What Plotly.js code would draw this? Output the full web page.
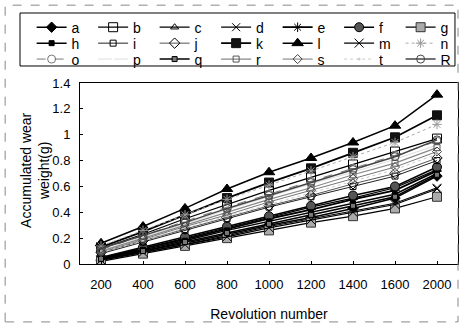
<!DOCTYPE html>
<html><head><meta charset="utf-8">
<script src="https://cdn.plot.ly/plotly-3.0.1.min.js"></script>
<style>html,body{margin:0;padding:0;background:#fff}#chart{width:462px;height:328px}</style>
</head><body><div id="chart"></div>
<script>
const revolutions = ['200','400','600','800','1000','1200','1400','1600','2000'];
const yTicks = [0,0.2,0.4,0.6,0.8,1,1.2,1.4];
const names = ['a','b','c','d','e','f','g','h','i','j','k','l','m','n','o','p','q','r','s','t','R'];
const a = [0.03,0.10,0.16,0.23,0.30,0.36,0.43,0.51,0.68];
const b = [0.12,0.23,0.35,0.46,0.57,0.67,0.77,0.87,0.97];
const c = [0.05,0.12,0.20,0.28,0.36,0.44,0.51,0.59,0.73];
const d = [0.03,0.09,0.15,0.22,0.29,0.35,0.41,0.47,0.59];
const e = [0.04,0.12,0.19,0.27,0.35,0.42,0.50,0.57,0.72];
const f = [0.05,0.13,0.21,0.29,0.37,0.45,0.53,0.60,0.75];
const g = [0.02,0.08,0.14,0.20,0.26,0.32,0.37,0.43,0.52];
const h = [0.04,0.11,0.18,0.26,0.33,0.40,0.47,0.54,0.70];
const i = [0.08,0.17,0.26,0.35,0.44,0.52,0.60,0.68,0.80];
const j = [0.09,0.18,0.27,0.36,0.45,0.53,0.62,0.70,0.82];
const k = [0.13,0.25,0.38,0.51,0.63,0.74,0.86,0.98,1.15];
const l = [0.16,0.29,0.43,0.58,0.71,0.82,0.94,1.07,1.31];
const m = [0.03,0.09,0.15,0.21,0.28,0.34,0.40,0.46,0.58];
const n = [0.14,0.26,0.38,0.50,0.61,0.72,0.83,0.94,1.08];
const o = [0.11,0.22,0.33,0.44,0.54,0.64,0.74,0.84,0.95];
const p = [0.10,0.21,0.31,0.42,0.52,0.62,0.71,0.81,0.92];
const q = [0.04,0.10,0.17,0.24,0.31,0.38,0.45,0.52,0.69];
const r = [0.10,0.20,0.30,0.40,0.50,0.59,0.69,0.78,0.90];
const s = [0.09,0.19,0.29,0.38,0.48,0.57,0.66,0.75,0.87];
const t = [0.09,0.18,0.28,0.37,0.46,0.55,0.64,0.73,0.85];
const R = [0.12,0.22,0.32,0.43,0.53,0.63,0.73,0.83,0.96];
const seriesValues = [a,b,c,d,e,f,g,h,i,j,k,l,m,n,o,p,q,r,s,t,R];

const styles = {
  a:{lc:'#000',lw:1.5,sym:'diamond',ms:8,mc:'#000'},
  b:{lc:'#000',lw:1.2,sym:'square-open',ms:9,mc:'#000'},
  c:{lc:'#000',lw:1.2,sym:'triangle-up-open',ms:7,mc:'#000'},
  d:{lc:'#000',lw:1.2,sym:'x-thin-open',ms:8,mc:'#000'},
  e:{lc:'#000',lw:1.8,sym:'asterisk-open',ms:8,mc:'#000'},
  f:{lc:'#000',lw:1.5,sym:'circle',ms:9,mc:'#555',mlc:'#000'},
  g:{lc:'#000',lw:1.2,sym:'square',ms:9,mc:'#aaa',mlc:'#333'},
  h:{lc:'#000',lw:1.5,sym:'square',ms:5,mc:'#000'},
  i:{lc:'#222',lw:1,sym:'square-open',ms:6,mc:'#000'},
  j:{lc:'#555',lw:1,sym:'diamond-open',ms:8,mc:'#000'},
  k:{lc:'#000',lw:1.8,sym:'square',ms:9,mc:'#111'},
  l:{lc:'#000',lw:1.5,sym:'triangle-up',ms:10,mc:'#000'},
  m:{lc:'#000',lw:1.2,sym:'x-thin-open',ms:9,mc:'#000'},
  n:{lc:'#aaa',lw:1,dash:'dot',sym:'asterisk-open',ms:8,mc:'#999'},
  o:{lc:'#777',lw:1,dash:'dash',sym:'circle-open',ms:8,mc:'#777'},
  p:{lc:'#ddd',lw:1,sym:'circle',ms:1,mc:'#fff'},
  q:{lc:'#000',lw:1.5,sym:'square',ms:5,mc:'#777',mlc:'#000'},
  r:{lc:'#888',lw:1.2,sym:'square-open',ms:6,mc:'#555'},
  s:{lc:'#777',lw:1,sym:'diamond-open',ms:7,mc:'#444'},
  t:{lc:'#ccc',lw:1,dash:'dot',sym:'circle',ms:1,mc:'#ccc'},
  R:{lc:'#444',lw:1.5,sym:'circle-open',ms:8,mc:'#444'}
};

const legendIds = ['legend', 'legend2', 'legend3'];
const traces = names.map((nm, idx) => {
  const st = styles[nm];
  return {
    x: revolutions, y: seriesValues[idx], name: nm, type: 'scatter', mode: 'lines+markers',
    legend: legendIds[Math.floor(idx / 7)],
    line: {color: st.lc, width: st.lw, dash: st.dash || 'solid'},
    marker: {symbol: st.sym, size: st.ms, color: st.mc, line: {color: st.mlc || st.mc, width: 1}}
  };
});

const font = {family: 'Liberation Sans, Arial, sans-serif', color: '#000'};
function legendRow(yPaper) {
  return {
    orientation: 'h', x: -0.128, y: yPaper, xanchor: 'left', yanchor: 'middle',
    bgcolor: 'rgba(0,0,0,0)', borderwidth: 0,
    font: Object.assign({size: 14}, font),
    entrywidth: 16.5, entrywidthmode: 'pixels', tracegroupgap: 0, itemwidth: 30
  };
}
const layout = {
  width: 462, height: 328,
  margin: {l: 80, r: 4, t: 83, b: 64, autoexpand: false},
  paper_bgcolor: '#fff', plot_bgcolor: '#fff',
  font: Object.assign({size: 13}, font),
  showlegend: true,
  legend: legendRow(1.306),
  legend2: legendRow(1.218),
  legend3: legendRow(1.130),
  xaxis: {
    type: 'category', range: [-0.5, 8.5], showgrid: false, zeroline: false,
    showline: true, linecolor: '#000', linewidth: 1, mirror: true,
    ticks: 'inside', ticklen: 3, tickcolor: '#000', ticklabelstandoff: 8,
    tickfont: Object.assign({size: 13}, font),
    title: {text: 'Revolution number', font: Object.assign({size: 14}, font), standoff: 18}
  },
  yaxis: {
    range: [0, 1.4], tickvals: yTicks, showgrid: false, zeroline: false,
    showline: true, linecolor: '#000', linewidth: 1, mirror: true,
    ticks: 'inside', ticklen: 3, tickcolor: '#000', ticklabelstandoff: 6,
    tickfont: Object.assign({size: 13}, font)
  },
  annotations: [{
    text: 'Accumulated wear<br>weight(g)', xref: 'paper', yref: 'paper',
    x: -0.119, y: 0.52, xanchor: 'center', yanchor: 'middle', textangle: -90,
    showarrow: false, font: Object.assign({size: 14}, font)
  }],
  shapes: [
    {type: 'rect', xref: 'paper', yref: 'paper',
     x0: -0.198, x1: 1.0, y0: -0.32, y1: 1.43,
     line: {color: '#888', width: 1, dash: 'dash'}},
    {type: 'rect', xref: 'paper', yref: 'paper',
     x0: -0.1587, x1: 0.992, y0: 1.094, y1: 1.3867,
     line: {color: '#000', width: 1}, fillcolor: 'rgba(0,0,0,0)'}
  ]
};
Plotly.newPlot('chart', traces, layout, {displayModeBar: false, staticPlot: true});
</script></body></html>
